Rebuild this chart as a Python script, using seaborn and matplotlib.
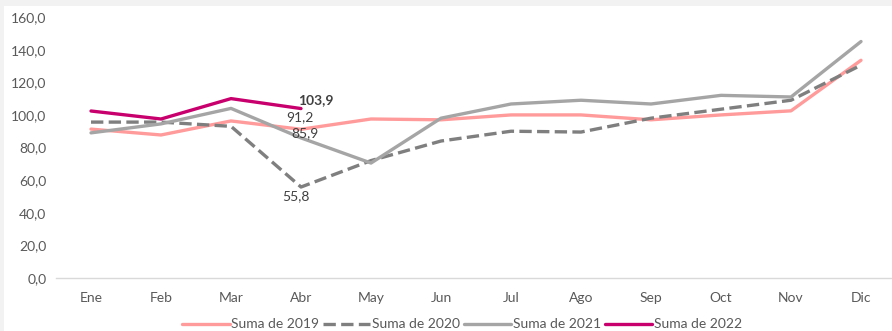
import matplotlib
matplotlib.use("Agg")
import matplotlib.pyplot as plt
import pandas as pd
import seaborn as sns
from matplotlib.patches import Rectangle

# data
meses = ["Ene", "Feb", "Mar", "Abr", "May", "Jun", "Jul", "Ago", "Sep", "Oct", "Nov", "Dic"]
suma_2019 = [91.3, 87.7, 96.3, 91.2, 97.5, 97.0, 100.0, 100.0, 97.0, 100.0, 102.5, 133.5]
suma_2020 = [95.6, 95.6, 93.0, 55.8, 72.0, 84.0, 90.0, 89.5, 98.0, 103.5, 109.0, 130.5]
suma_2021 = [89.0, 94.5, 104.0, 85.9, 70.5, 98.0, 106.7, 109.0, 106.7, 112.0, 111.0, 145.0]
suma_2022 = [102.4, 97.5, 110.0, 103.9]

sns.set_theme(style="white")
plt.rcParams["font.family"] = ["Lato", "DejaVu Sans"]

fig = plt.figure(figsize=(8.92, 3.31), dpi=100)
fig.patch.set_facecolor("#f2f2f2")
fig.patches.append(Rectangle((0.004, 0.0), 1.0, 0.982, transform=fig.transFigure,
                             facecolor="white", edgecolor="none", zorder=-10))
ax = fig.add_axes([0.0628, 0.160, 0.9417, 0.7885])
ax.set_facecolor("none")

series = [
    ("Suma de 2019", suma_2019, "#ff9b9b", "-"),
    ("Suma de 2020", suma_2020, "#7f7f7f", "--"),
    ("Suma de 2021", suma_2021, "#a5a5a5", "-"),
    ("Suma de 2022", suma_2022, "#c8006e", "-"),
]
for name, vals, color, ls in series:
    df = pd.DataFrame({"mes": meses[:len(vals)], "valor": vals})
    sns.lineplot(data=df, x="mes", y="valor", ax=ax, color=color, linestyle=ls,
                 linewidth=2.4, sort=False, label=name)

# data labels at Abr
lab_col = "#404040"
fs = 10
ax.annotate("91,2", (3, suma_2019[3]), xytext=(-1, 9), textcoords="offset points",
            ha="center", va="center", fontsize=fs, color=lab_col)
ax.annotate("85,9", (3, suma_2021[3]), xytext=(3, 3.5), textcoords="offset points",
            ha="center", va="center", fontsize=fs, color=lab_col)
ax.annotate("55,8", (3, suma_2020[3]), xytext=(-4, -2), textcoords="offset points",
            ha="center", va="top", fontsize=fs, color=lab_col)
ax.annotate("103,9", (3, suma_2022[3]), xytext=(-2, 2), textcoords="offset points",
            ha="left", va="bottom", fontsize=fs, color=lab_col, fontweight="bold")

ax.set_xlim(-0.5, 11.5)
ax.set_ylim(0, 160)
ax.set_yticks(range(0, 161, 20))
ax.set_yticklabels([f"{v},0" for v in range(0, 161, 20)])
ax.set_xlabel("")
ax.set_ylabel("")
ax.tick_params(axis="both", length=0, labelsize=fs, labelcolor="#595959")
ax.tick_params(axis="x", pad=10)
ax.tick_params(axis="y", pad=7)
for s in ["top", "right", "left"]:
    ax.spines[s].set_visible(False)
ax.spines["bottom"].set_color("#d9d9d9")
ax.spines["bottom"].set_linewidth(1)

ax.legend(loc="lower center", bbox_to_anchor=(0.518, -0.015), bbox_transform=fig.transFigure,
          ncol=4, frameon=False, fontsize=fs, labelcolor="#595959",
          handlelength=3.4, handletextpad=0.1, columnspacing=0.3, borderaxespad=0)

fig.savefig("out.png", dpi=100, facecolor=fig.get_facecolor())
